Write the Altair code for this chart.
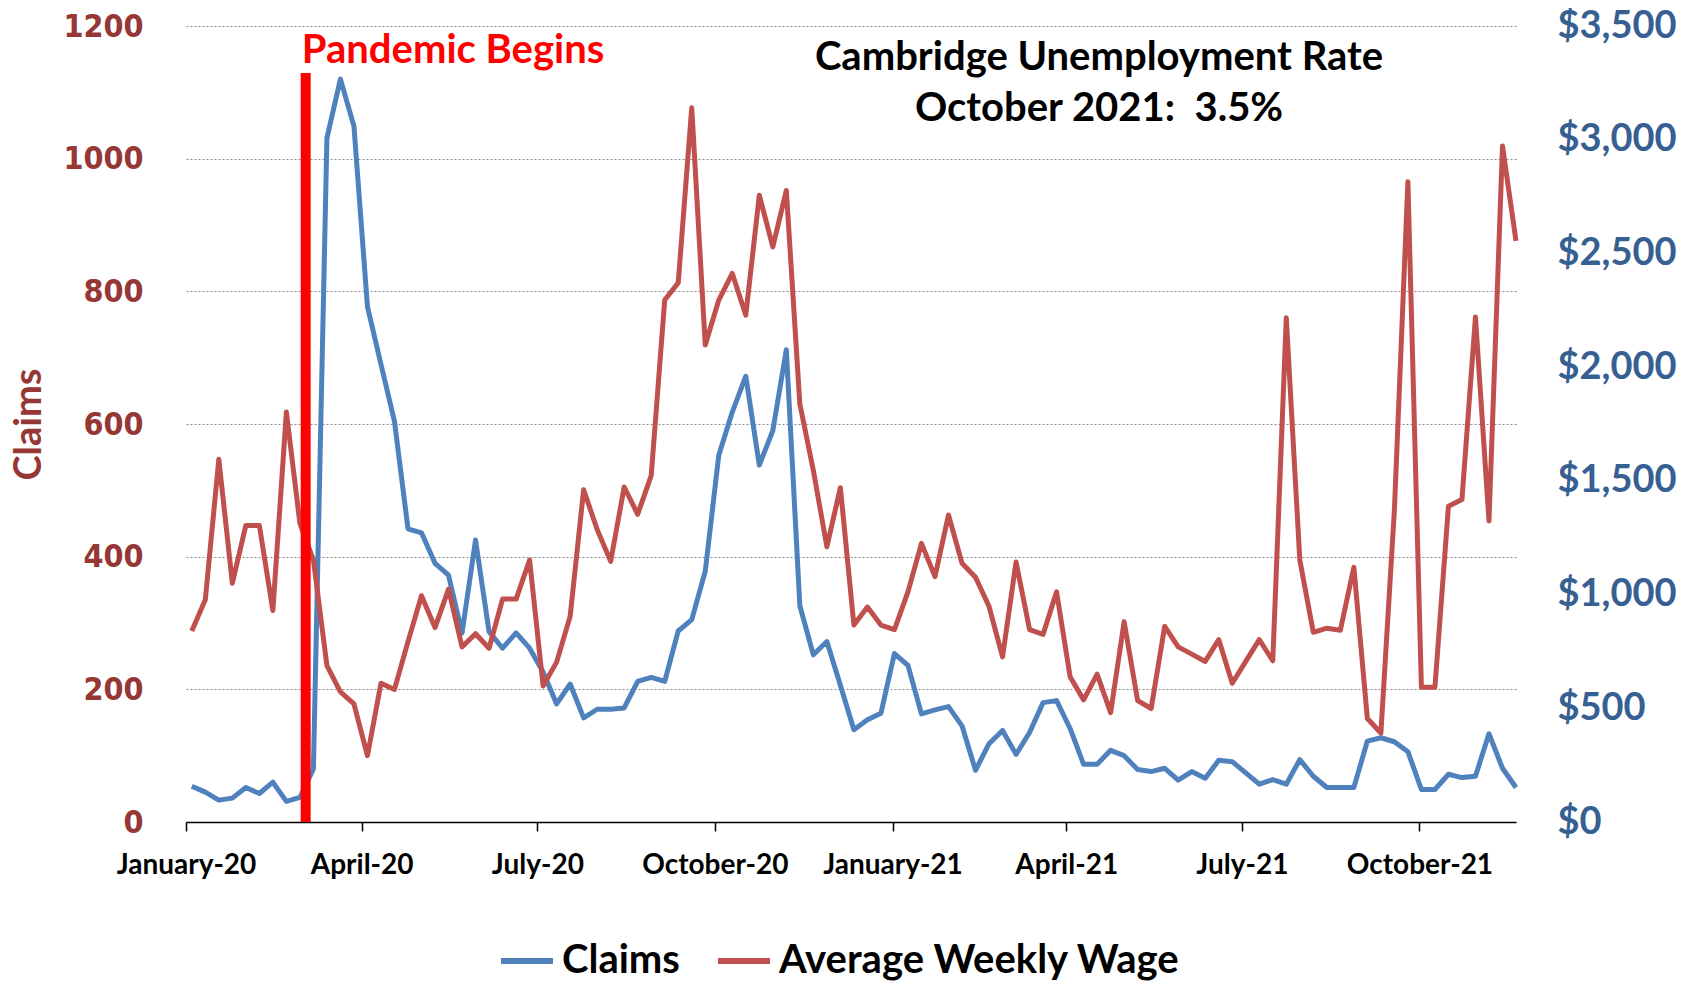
import altair as alt
import pandas as pd

# Weekly observations (week ending Saturdays), Jan 2020 - Nov 2021
weeks = pd.date_range("2020-01-04", periods=99, freq="7D").strftime("%Y-%m-%d").tolist()

claims = [54, 45, 33, 36, 52, 43, 60, 31, 37, 80,
          1031, 1120, 1049, 777, 690, 604, 442, 436, 390, 372,
          285, 425, 287, 262, 285, 262, 226, 178, 208, 157,
          170, 170, 172, 212, 218, 212, 288, 305, 378, 553,
          618, 672, 538, 590, 712, 326, 252, 272, 206, 139,
          154, 164, 254, 236, 163, 169, 174, 145, 78, 118,
          138, 102, 135, 180, 183, 141, 87, 87, 108, 100,
          79, 76, 81, 63, 76, 66, 93, 91, 74, 57,
          64, 57, 94, 69, 52, 52, 52, 122, 127, 121,
          106, 49, 49, 72, 67, 69, 133, 81, 52]

wage = [840, 977, 1595, 1050, 1304, 1304, 930, 1803, 1313, 1152,
        688, 572, 519, 292, 610, 583, 793, 995, 855, 1024,
        770, 828, 764, 980, 980, 1152, 598, 703, 904, 1461,
        1286, 1146, 1473, 1353, 1523, 2295, 2371, 3141, 2097, 2295,
        2412, 2228, 2756, 2529, 2777, 1838, 1546, 1210, 1470, 866,
        945, 866, 846, 1012, 1225, 1079, 1350, 1138, 1076, 948,
        726, 1143, 846, 825, 1012, 639, 537, 650, 481, 881,
        534, 499, 860, 770, 738, 706, 802, 610, 706, 802,
        709, 2217, 1152, 834, 852, 843, 1120, 455, 391, 1371,
        2815, 592, 592, 1388, 1418, 2220, 1324, 2972, 2555]

series_names = ["Claims", "Average Weekly Wage"]
series_colors = ["#4F81BD", "#C0504D"]

claims_ticks = [0, 200, 400, 600, 800, 1000, 1200]
wage_ticks = [0, 500, 1000, 1500, 2000, 2500, 3000, 3500]
x_tick_dates = [(2020, 1), (2020, 4), (2020, 7), (2020, 10),
                (2021, 1), (2021, 4), (2021, 7), (2021, 10)]

title_lines = ["Cambridge Unemployment Rate", "October 2021:\u00a0 3.5%"]
title_date = ["2021-04-18", "2021-04-18"]
title_pos = [3307, 3083]

pandemic_label = ["Pandemic Begins"]
pandemic_label_date = ["2020-03-01"]
pandemic_label_pos = [3338]
pandemic_line_date = ["2020-03-03"]
pandemic_line_top = [3293]

df = pd.DataFrame({"date": weeks, "Claims": claims, "Wage": wage})
title_df = pd.DataFrame({"date": title_date, "v": title_pos, "label": title_lines})
pl_df = pd.DataFrame({"date": pandemic_label_date, "v": pandemic_label_pos, "label": pandemic_label})
rule_df = pd.DataFrame({"date": pandemic_line_date, "v": [0], "v2": pandemic_line_top})

FONT = "Lato"

x_scale = alt.Scale(type="utc", domain=[alt.DateTime(year=2020, month=1, date=1, utc=True),
                                         alt.DateTime(year=2021, month=11, date=20, utc=True)])
x_axis = alt.Axis(values=[alt.DateTime(year=y, month=m, date=1, utc=True) for y, m in x_tick_dates],
                  format="%B-%y", labelFont=FONT, labelFontSize=28, labelFontWeight="bold",
                  labelColor="black", labelFlush=False, labelOverlap=False, labelPadding=20,
                  domainColor="black", domainWidth=1.5, tickColor="black", tickWidth=1.5, tickSize=9,
                  grid=False, title=None)

color_scale = alt.Scale(domain=series_names, range=series_colors)
legend = alt.Legend(title=None, orient="none", legendX=312, legendY=906, direction="horizontal",
                    symbolType="stroke", symbolSize=2704, symbolStrokeWidth=6,
                    labelFont=FONT, labelFontSize=40, labelFontWeight="bold", labelColor="black",
                    labelOffset=6, columnPadding=26, labelLimit=0)

claims_scale = alt.Scale(domain=[0, 1200], nice=False)
wage_scale = alt.Scale(domain=[0, 3500], nice=False)

left_axis = alt.Axis(values=claims_ticks, format="d",
                     labelFont="DejaVu Sans Condensed, DejaVu Sans", labelFontSize=32,
                     labelFontWeight="bold", labelColor="#953735", labelPadding=43,
                     domain=False, ticks=False, grid=True, gridDash=[2, 2], gridColor="#8a8a8a",
                     gridWidth=1, title="Claims", titleFont=FONT, titleFontSize=38,
                     titleFontWeight="bold", titleColor="#953735", titleX=-157, titleY=398,
                     titleAlign="center", titleBaseline="middle", titleAngle=270)
right_axis = alt.Axis(orient="right", values=wage_ticks, format="$,.0f", labelFont=FONT,
                      labelFontSize=38, labelFontWeight="bold", labelColor="#376092",
                      labelPadding=41, domain=False, ticks=False, grid=False, title=None)

X = alt.X("date:T", scale=x_scale, axis=x_axis)

claims_line = alt.Chart(df).transform_calculate(series='"Claims"').mark_line(
    strokeWidth=5, strokeJoin="round").encode(
    x=X,
    y=alt.Y("Claims:Q", scale=claims_scale, axis=left_axis),
    color=alt.Color("series:N", scale=color_scale, legend=legend),
)

wage_line = alt.Chart(df).transform_calculate(series='"Average Weekly Wage"').mark_line(
    strokeWidth=5, strokeJoin="round").encode(
    x=X,
    y=alt.Y("Wage:Q", scale=wage_scale, axis=right_axis),
    color=alt.Color("series:N", scale=color_scale, legend=legend),
)

rule = alt.Chart(rule_df).mark_rule(color="#FF0000", strokeWidth=10).encode(
    x=X,
    y=alt.Y("v:Q", scale=wage_scale, axis=right_axis),
    y2="v2:Q",
)

pandemic_text = alt.Chart(pl_df).mark_text(
    align="left", baseline="alphabetic", font=FONT, fontSize=40, fontWeight="bold",
    color="#FF0000").encode(
    x=X,
    y=alt.Y("v:Q", scale=wage_scale, axis=right_axis),
    text="label:N",
)

title_text = alt.Chart(title_df).mark_text(
    align="center", baseline="alphabetic", font=FONT, fontSize=40, fontWeight="bold",
    color="black").encode(
    x=X,
    y=alt.Y("v:Q", scale=wage_scale, axis=right_axis),
    text="label:N",
)

right = alt.layer(wage_line, rule, pandemic_text, title_text)

chart = alt.layer(claims_line, right).resolve_scale(y="independent").properties(
    width=1330, height=796,
    padding={"left": 178, "top": 18, "right": 160, "bottom": 160},
    autosize=alt.AutoSizeParams(type="none"),
).configure_view(stroke=None)

chart.save("out.html", embed_options={"renderer": "svg", "actions": False})
